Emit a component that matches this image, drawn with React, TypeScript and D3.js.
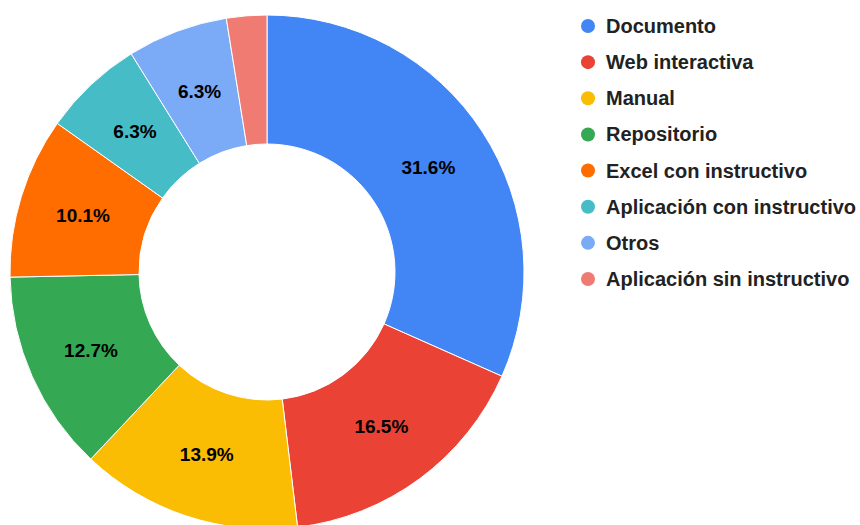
import React from 'react';
import * as d3 from 'd3';

const categories = [
  'Documento',
  'Web interactiva',
  'Manual',
  'Repositorio',
  'Excel con instructivo',
  'Aplicación con instructivo',
  'Otros',
  'Aplicación sin instructivo',
];
const values = [25, 13, 11, 10, 8, 5, 5, 2];
const colors = ['#4285F4', '#EA4335', '#FBBC04', '#34A853', '#FF6D01', '#46BDC6', '#7BAAF7', '#F07B72'];

const W = 860;
const H = 525;
const cx = 267;
const cy = 272;
const outerR = 257;
const innerR = 128;
const font = '"Liberation Sans", Arial, sans-serif';

export default function App() {
  const total = d3.sum(values);
  const pie = d3.pie<number>().value((d) => d).sort(null);
  const arcs = pie(values);
  const arc = d3.arc<d3.PieArcDatum<number>>().innerRadius(innerR).outerRadius(outerR);
  const labelArc = d3.arc<d3.PieArcDatum<number>>().innerRadius((innerR + outerR) / 2).outerRadius((innerR + outerR) / 2);

  const legendY = d3.scalePoint<string>().domain(categories).range([26, 279]);

  return (
    <svg width={W} height={H} style={{ position: 'absolute', left: 0, top: 0, background: '#fff' }}>
      <g transform={`translate(${cx},${cy})`}>
        {arcs.map((a, i) => (
          <path key={i} d={arc(a) || ''} fill={colors[i]} stroke="#fff" strokeWidth={1} />
        ))}
        {arcs.map((a, i) => {
          const pct = (values[i] / total) * 100;
          if (pct < 5) return null;
          const [x, y] = labelArc.centroid(a);
          return (
            <text
              key={i}
              x={x}
              y={y}
              textAnchor="middle"
              dominantBaseline="central"
              fontFamily={font}
              fontWeight="bold"
              fontSize={19}
              fill="#000"
            >
              {pct.toFixed(1)}%
            </text>
          );
        })}
      </g>
      <g>
        {categories.map((c, i) => (
          <g key={c} transform={`translate(588,${legendY(c)})`}>
            <circle r={7} fill={colors[i]} />
            <text x={18} dominantBaseline="central" fontFamily={font} fontWeight="bold" fontSize={20} fill="#222">
              {c}
            </text>
          </g>
        ))}
      </g>
    </svg>
  );
}
